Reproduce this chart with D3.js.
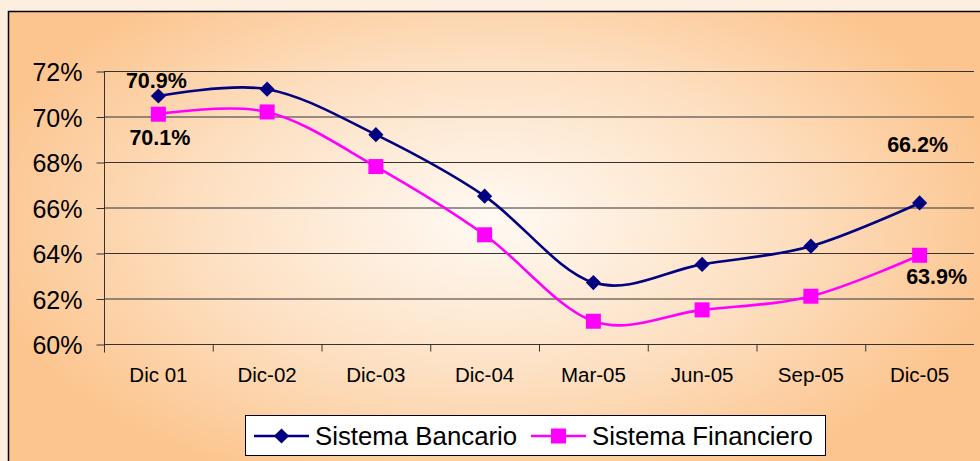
<!DOCTYPE html>
<html><head><meta charset="utf-8">
<script src="https://cdn.jsdelivr.net/npm/d3@7"></script>
<style>html,body{margin:0;padding:0;background:#fdeee0;}svg{display:block;}</style>
</head><body>
<svg id="c" width="980" height="461"></svg>
<script>
const categories = ["Dic 01","Dic-02","Dic-03","Dic-04","Mar-05","Jun-05","Sep-05","Dic-05"];
const bancario = [70.9, 71.2, 69.2, 66.5, 62.7, 63.5, 64.3, 66.2];
const financiero = [70.1, 70.2, 67.8, 64.8, 61.0, 61.5, 62.1, 63.9];
const yTicks = [60, 62, 64, 66, 68, 70, 72];
const seriesNames = ["Sistema Bancario", "Sistema Financiero"];

(function () {
const FONT = "Liberation Sans, Arial, sans-serif";
const svg = d3.select("#c");
const defs = svg.append("defs");
const g = defs.append("radialGradient").attr("id","bg")
  .attr("gradientUnits","userSpaceOnUse")
  .attr("cx",490).attr("cy",220).attr("r",520)
  .attr("gradientTransform","translate(490,220) scale(1,0.55) translate(-490,-220)");
g.append("stop").attr("offset",0).attr("stop-color","#fffaf4");
g.append("stop").attr("offset",0.55).attr("stop-color","#fde0c2");
g.append("stop").attr("offset",1).attr("stop-color","#fcc58f");

svg.append("rect").attr("x",0).attr("y",0).attr("width",980).attr("height",461).attr("fill","#fdeee0");
svg.append("rect").attr("x",8.5).attr("y",11.5).attr("width",990).attr("height",470)
  .attr("fill","url(#bg)").attr("stroke","#000").attr("stroke-width",1.5);

const pl = 104, pr = 974, pt = 71, pb = 344;
const x = d3.scaleBand().domain(categories).range([pl, pr]);
const y = d3.scaleLinear().domain([60, 72]).range([pb, pt]);

svg.append("g").selectAll("line").data(yTicks.filter(d => d > 60)).join("line")
  .attr("x1", pl).attr("x2", pr)
  .attr("y1", d => y(d) + 0.5).attr("y2", d => y(d) + 0.5)
  .attr("stroke", "#333").attr("stroke-width", 1);

const yAxis = d3.axisLeft(y).tickValues(yTicks).tickSize(8).tickPadding(14)
  .tickFormat(d => d + "%");
const ya = svg.append("g").attr("transform", `translate(${pl + 0.5},0.5)`).call(yAxis);
ya.select(".domain").attr("d", `M0,${pt}V${pb + 8}`).attr("stroke", "#333");
ya.selectAll(".tick line").attr("stroke", "#333");
ya.selectAll("text").attr("font-family", FONT)
  .attr("font-size", 25).attr("fill", "#000").attr("dy", "0.36em");

const xAxis = d3.axisBottom(x).tickSize(0);
const xa = svg.append("g").attr("transform", `translate(0,${pb + 0.5})`).call(xAxis);
xa.select(".domain").attr("d", `M${pl},0H${pr}`).attr("stroke", "#333");
xa.selectAll("text").attr("font-family", FONT)
  .attr("font-size", 20.5).attr("fill", "#000").attr("y", 37.5).attr("dy", 0);
xa.append("g").selectAll("line").data(categories.slice(1)).join("line")
  .attr("x1", d => x(d) + 0.5).attr("x2", d => x(d) + 0.5)
  .attr("y1", 0).attr("y2", 7).attr("stroke", "#333");

const cx = d => x(d) + x.bandwidth() / 2;
const line = d3.line().x((d, i) => cx(categories[i])).y(d => y(d))
  .curve(d3.curveCatmullRom.alpha(0));

svg.append("path").datum(financiero).attr("d", line)
  .attr("fill", "none").attr("stroke", "#ff00ff").attr("stroke-width", 2.6);
svg.append("path").datum(bancario).attr("d", line)
  .attr("fill", "none").attr("stroke", "#000080").attr("stroke-width", 2.6);

const sq = 15;
svg.append("g").selectAll("rect").data(financiero).join("rect")
  .attr("x", (d, i) => cx(categories[i]) - sq / 2).attr("y", d => y(d) - sq / 2)
  .attr("width", sq).attr("height", sq).attr("fill", "#ff00ff");
const diamond = d3.symbol().type(d3.symbolSquare).size(115);
svg.append("g").selectAll("path").data(bancario).join("path")
  .attr("d", diamond)
  .attr("transform", (d, i) => `translate(${cx(categories[i])},${y(d)}) rotate(45)`)
  .attr("fill", "#000080");

const labels = [
  {v: bancario[0], i: 0, dx: -2, dy: -8},
  {v: financiero[0], i: 0, dx: 1.5, dy: 31},
  {v: bancario[7], i: 7, dx: -2, dy: -51},
  {v: financiero[7], i: 7, dx: 17, dy: 29}
];
svg.append("g").selectAll("text").data(labels).join("text")
  .attr("x", d => cx(categories[d.i]) + d.dx).attr("y", d => y(d.v) + d.dy)
  .attr("text-anchor", "middle")
  .attr("font-family", FONT).attr("font-weight", "bold")
  .attr("font-size", 21.5).attr("fill", "#000")
  .text(d => d.v.toFixed(1) + "%");

const lg = svg.append("g");
lg.append("rect").attr("x", 245.5).attr("y", 415.5).attr("width", 580).attr("height", 40)
  .attr("fill", "#fff").attr("stroke", "#000").attr("stroke-width", 1);
const items = [
  {name: seriesNames[0], color: "#000080", x0: 254, tx: 315, type: "d"},
  {name: seriesNames[1], color: "#ff00ff", x0: 531, tx: 592, type: "s"}
];
items.forEach(it => {
  lg.append("line").attr("x1", it.x0).attr("x2", it.x0 + 55).attr("y1", 436).attr("y2", 436)
    .attr("stroke", it.color).attr("stroke-width", 2.6);
  const mx = it.x0 + 27.5;
  if (it.type === "d") {
    lg.append("path").attr("d", diamond)
      .attr("transform", `translate(${mx},436) rotate(45)`).attr("fill", it.color);
  } else {
    lg.append("rect").attr("x", mx - 7.5).attr("y", 428.5).attr("width", 15).attr("height", 15).attr("fill", it.color);
  }
  lg.append("text").attr("x", it.tx).attr("y", 445)
    .attr("font-family", FONT).attr("font-size", 25.8).attr("fill", "#000")
    .text(it.name);
});
})();
</script>
</body></html>
